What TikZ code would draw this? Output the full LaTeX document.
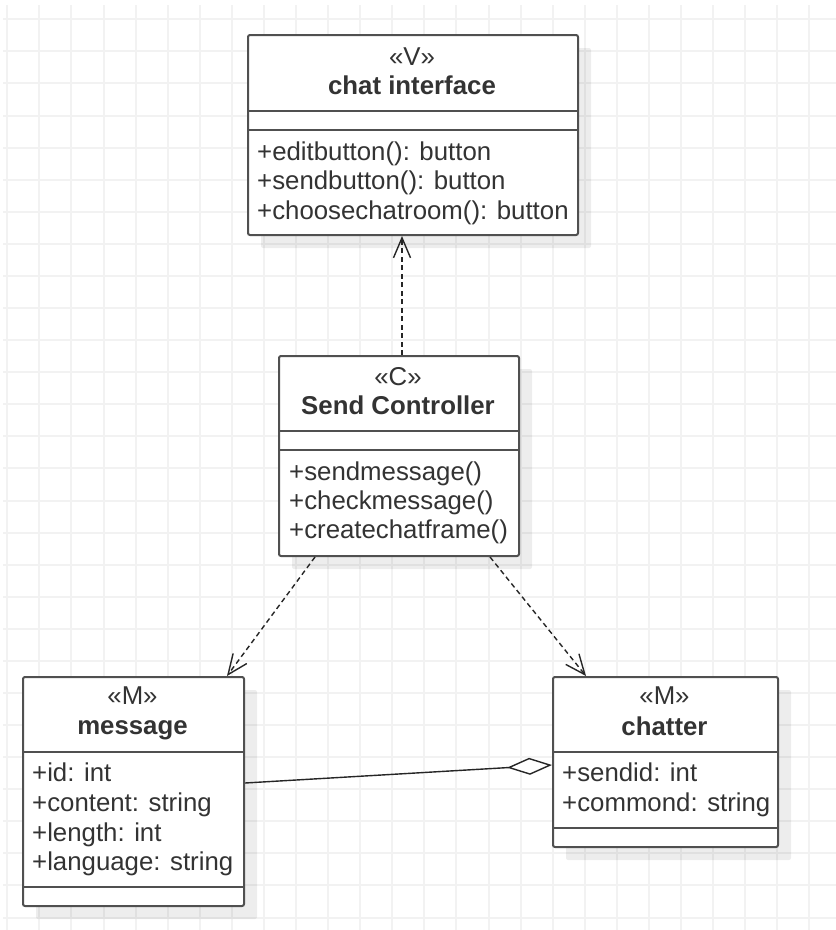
\documentclass[tikz,border=0pt]{standalone}
\usepackage{fontspec}
\setmainfont{Liberation Sans}
\usetikzlibrary{arrows.meta,shadows}
\definecolor{gridc}{HTML}{F2F2F2}
\definecolor{edge}{HTML}{505050}
\definecolor{ink}{HTML}{333333}
\begin{document}
\begin{tikzpicture}[x=1pt,y=-1pt,
  gridline/.style={draw=gridc, line width=2pt},
  classbox/.style={draw=edge, line width=2pt, fill=white, rounded corners=2pt,
    inner sep=0pt, anchor=north west,
    drop shadow={shadow xshift=13pt, shadow yshift=-13pt, fill=black, opacity=0.07}},
  sepline/.style={draw=edge, line width=2pt},
  txt/.style={inner sep=0pt, text=ink, font=\fontsize{25.8pt}{29.5pt}\selectfont},
  stereo/.style={txt, anchor=base},
  title/.style={txt, anchor=base, font=\fontsize{25.8pt}{29.5pt}\selectfont\bfseries},
  member/.style={txt, anchor=base west},
  dep/.style={draw=black!85, line width=1.4pt, dash pattern=on 5pt off 3.5pt,
    -{Straight Barb[length=20pt,width=17pt,line width=1.4pt]}},
  agg/.style={draw=black!85, line width=1.4pt,
    -{Diamond[length=45pt,width=17pt,fill=white,line width=1.4pt]}}
]
\useasboundingbox (0,0) rectangle (836,930);
\fill[white] (0,0) rectangle (836,930);

% background grid
\begin{scope}
  \clip (3,5) rectangle (836,930);
  \foreach \i in {0,...,25}
    \draw[gridline] ({7.3+32.08*\i},5) -- ({7.3+32.08*\i},930);
  \foreach \j in {0,...,28}
    \draw[gridline] (3,{19.3+32.08*\j}) -- (836,{19.3+32.08*\j});
\end{scope}

% class boxes
\node[classbox, minimum width=330pt, minimum height=200pt] (ci) at (247,34) {};
\node[classbox, minimum width=240pt, minimum height=200pt] (sc) at (278,355) {};
\node[classbox, minimum width=221pt, minimum height=229pt] (msg) at (22,676) {};
\node[classbox, minimum width=225pt, minimum height=170pt] (ch) at (552,676) {};

% compartment separators
\draw[sepline] ([yshift=-77pt]ci.north west) -- ([yshift=-77pt]ci.north east);
\draw[sepline] ([yshift=-96pt]ci.north west) -- ([yshift=-96pt]ci.north east);
\draw[sepline] ([yshift=-76pt]sc.north west) -- ([yshift=-76pt]sc.north east);
\draw[sepline] ([yshift=-95pt]sc.north west) -- ([yshift=-95pt]sc.north east);
\draw[sepline] ([yshift=-76pt]msg.north west) -- ([yshift=-76pt]msg.north east);
\draw[sepline] ([yshift=-211pt]msg.north west) -- ([yshift=-211pt]msg.north east);
\draw[sepline] ([yshift=-76pt]ch.north west) -- ([yshift=-76pt]ch.north east);
\draw[sepline] ([yshift=-152pt]ch.north west) -- ([yshift=-152pt]ch.north east);

% chat interface
\node[stereo] (ci-st) at (412,65) {«V»};
\node[title]  (ci-nm) at (412,94) {chat interface};
\node[member] (ci-m1) at (257,160) {+editbutton(): button};
\node[member] (ci-m2) at (257,189.5) {+sendbutton(): button};
\node[member] (ci-m3) at (257,219) {+choosechatroom(): button};

% Send Controller
\node[stereo] (sc-st) at (398,385) {«C»};
\node[title]  (sc-nm) at (398,414) {Send Controller};
\node[member] (sc-m1) at (289,480) {+sendmessage()};
\node[member] (sc-m2) at (289,509) {+checkmessage()};
\node[member] (sc-m3) at (289,538) {+createchatframe()};

% message
\node[stereo] (msg-st) at (132.5,704) {«M»};
\node[title]  (msg-nm) at (132.5,734) {message};
\node[member] (msg-a1) at (32,781) {+id: int};
\node[member] (msg-a2) at (32,811) {+content: string};
\node[member] (msg-a3) at (32,841) {+length: int};
\node[member] (msg-a4) at (32,870) {+language: string};

% chatter
\node[stereo] (ch-st) at (664.5,704) {«M»};
\node[title]  (ch-nm) at (664.5,735) {chatter};
\node[member] (ch-a1) at (562,781) {+sendid: int};
\node[member] (ch-a2) at (562,811) {+commond: string};

% dependencies
\draw[dep] ([xshift=3pt]sc.north) -- ([xshift=3pt]sc.north |- ci.south);
\draw[dep] ([xshift=37pt]sc.south west) -- ([xshift=-18pt]msg.north east);
\draw[dep] ([xshift=-30pt]sc.south east) -- ([xshift=34pt]ch.north west);

% aggregation
\draw[agg] ([yshift=-107pt]msg.north east) -- ([yshift=-89pt]ch.north west);
\end{tikzpicture}
\end{document}
